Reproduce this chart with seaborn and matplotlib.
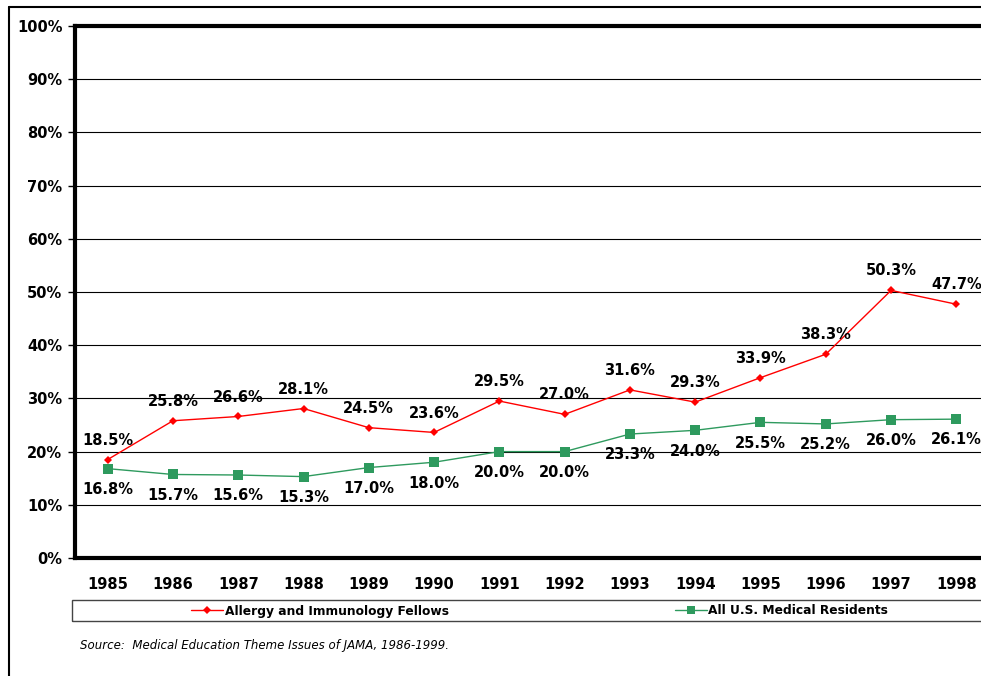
import matplotlib
matplotlib.use("Agg")
import matplotlib.pyplot as plt
import seaborn as sns
import pandas as pd
from matplotlib.patches import Rectangle
from matplotlib.lines import Line2D
from matplotlib.ticker import MultipleLocator, PercentFormatter

years = ["1985", "1986", "1987", "1988", "1989", "1990", "1991",
         "1992", "1993", "1994", "1995", "1996", "1997", "1998"]
allergy = [18.5, 25.8, 26.6, 28.1, 24.5, 23.6, 29.5, 27.0, 31.6, 29.3, 33.9, 38.3, 50.3, 47.7]
residents = [16.8, 15.7, 15.6, 15.3, 17.0, 18.0, 20.0, 20.0, 23.3, 24.0, 25.5, 25.2, 26.0, 26.1]
series_names = ["Allergy and Immunology Fellows", "All U.S. Medical Residents"]

RED = "#ff0000"
GREEN = "#2e9a5e"

df = pd.DataFrame({
    "year": years * 2,
    "pos": list(range(len(years))) * 2,
    "value": allergy + residents,
    "series": [series_names[0]] * len(years) + [series_names[1]] * len(years),
})

sns.set_style("white")
plt.rcParams["font.family"] = ["DejaVu Sans"]
plt.rcParams["text.color"] = "black"
plt.rcParams["xtick.color"] = "black"
plt.rcParams["ytick.color"] = "black"

fig = plt.figure(figsize=(9.81, 6.76), dpi=100)
ax = fig.add_axes([75 / 981, 118 / 676, 914 / 981, 532 / 676])

sns.lineplot(data=df, x="pos", y="value", hue="series", style="series",
             palette=[RED, GREEN], markers=["D", "s"], dashes=False,
             markersize=5, linewidth=1, markeredgewidth=0, ax=ax, legend=False)
# bigger square markers for green
for line, ms in zip(ax.get_lines(), [4.5, 6.5]):
    line.set_markersize(ms)

ax.set_xlim(-0.5, len(years) - 0.5)
ax.set_ylim(0, 100)
ax.yaxis.set_major_locator(MultipleLocator(10))
ax.yaxis.set_major_formatter(PercentFormatter(decimals=0))
ax.set_xticks(range(len(years)))
ax.set_xticklabels(years)
ax.grid(axis="y", color="black", linewidth=0.8)
ax.set_axisbelow(True)
ax.set_xlabel("")
ax.set_ylabel("")
ax.tick_params(axis="y", left=True, length=5, width=1, labelsize=10.5, pad=4)
ax.tick_params(axis="x", bottom=False, labelsize=10.5, pad=10)
for lab in ax.get_xticklabels() + ax.get_yticklabels():
    lab.set_fontweight("bold")
for side in ["left", "bottom", "top"]:
    ax.spines[side].set_linewidth(3)
    ax.spines[side].set_color("black")
ax.spines["right"].set_visible(False)

for i, v in enumerate(allergy):
    ax.annotate(f"{v:.1f}%", (i, v), xytext=(0, 14), textcoords="offset points",
                ha="center", va="center", fontsize=10.5, fontweight="bold")
for i, v in enumerate(residents):
    ax.annotate(f"{v:.1f}%", (i, v), xytext=(0, -15), textcoords="offset points",
                ha="center", va="center", fontsize=10.5, fontweight="bold")

# legend box
fig.add_artist(Rectangle((72 / 981, 1 - 621 / 676), 920 / 981, 21 / 676,
                         transform=fig.transFigure, fill=False,
                         edgecolor="#444444", linewidth=1))
handles = [Line2D([], [], color=RED, marker="D", markersize=4.5, markeredgewidth=0, linewidth=1),
           Line2D([], [], color=GREEN, marker="s", markersize=6, markeredgewidth=0, linewidth=1)]
leg = fig.legend(handles, series_names, loc="center left",
                 bbox_to_anchor=(180 / 981, 1 - 611 / 676), ncol=2, frameon=False,
                 handlelength=2.6, handletextpad=0.15, columnspacing=18.5,
                 prop={"weight": "bold", "size": 8.8})

fig.text(80 / 981, 1 - 645 / 676, "Source:  Medical Education Theme Issues of JAMA, 1986-1999.",
         fontsize=8.5, style="italic", ha="left", va="center")

# outer frame
fig.add_artist(Line2D([9 / 981, 9 / 981], [0, 1 - 7 / 676], transform=fig.transFigure,
                      color="black", linewidth=1.5))
fig.add_artist(Line2D([9 / 981, 1], [1 - 7 / 676, 1 - 7 / 676], transform=fig.transFigure,
                      color="black", linewidth=1.5))

fig.savefig("out.png", dpi=100)
